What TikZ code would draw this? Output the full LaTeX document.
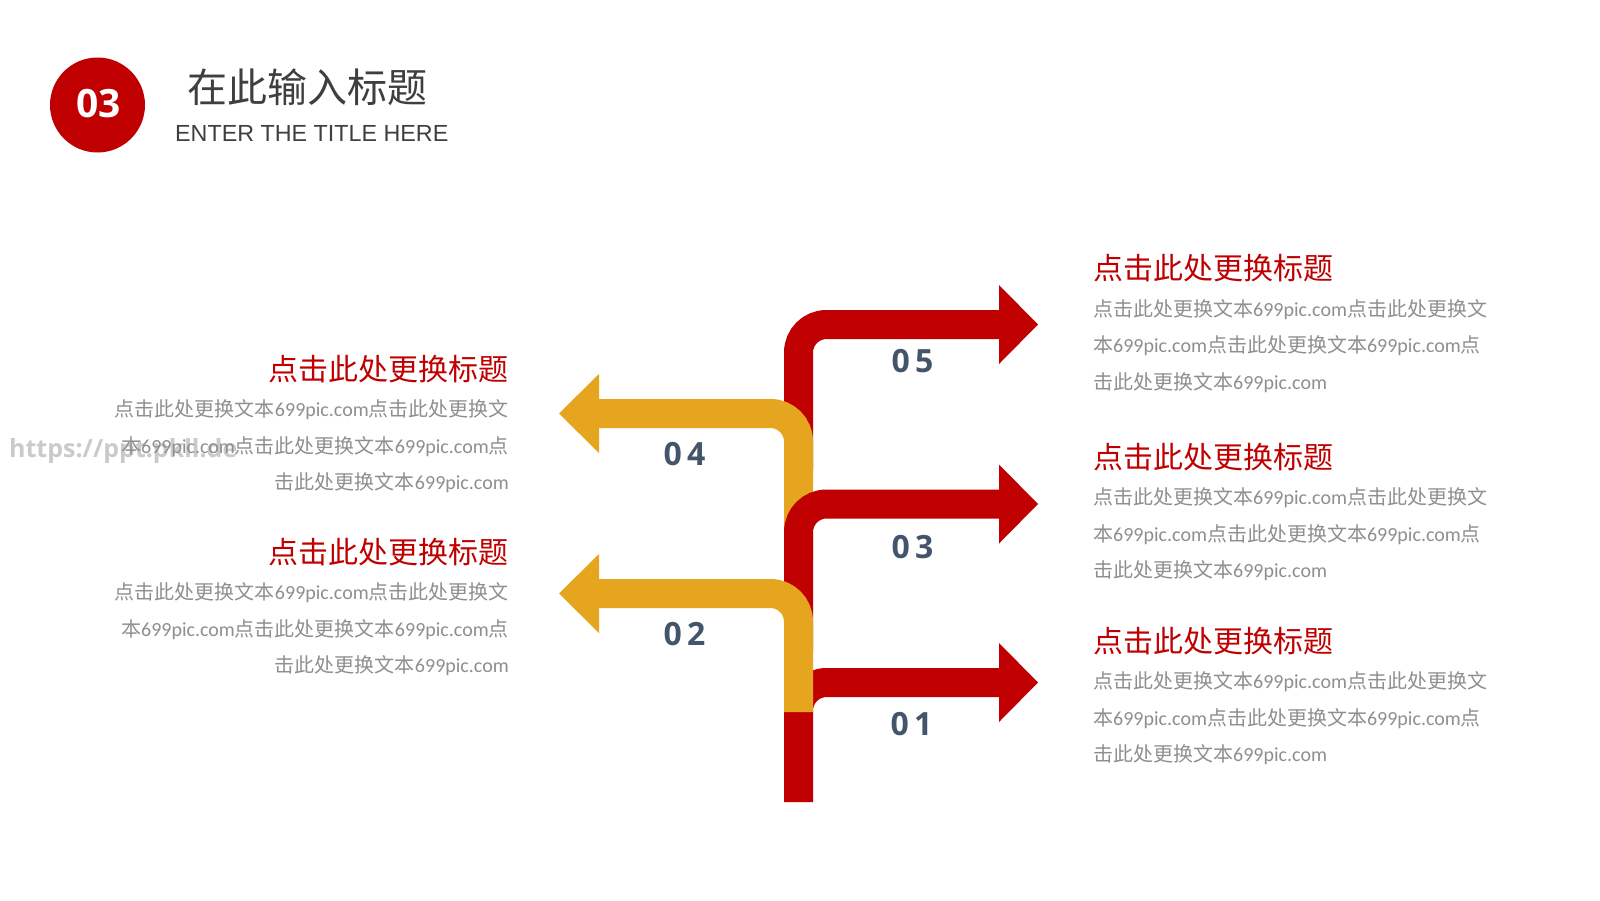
\documentclass[tikz,border=0pt]{standalone}
\usepackage{fontspec}
\newfontfamily\cjk{Noto Sans CJK SC}
\newfontfamily\osans{Open Sans}
\newfontfamily\lsans{Liberation Sans}
\newfontfamily\carl{Carlito}
\definecolor{mred}{HTML}{C00000}
\definecolor{myel}{HTML}{E5A51F}
\definecolor{lab}{HTML}{44546A}
\definecolor{bodyg}{HTML}{8F8F8F}
\definecolor{headg}{HTML}{3F3F3F}
\definecolor{wmark}{HTML}{CACACA}
\newcommand\pc{{\carl\fontsize{20}{20}\selectfont 699pic.com}}
\begin{document}
\begin{tikzpicture}[x=1pt,y=-1pt,
  band/.style={line width=29pt, rounded corners=28pt},
  num/.style={inner sep=0pt, text=lab, font=\osans\bfseries\fontsize{32}{32}\selectfont},
  ttl/.style={inner sep=0pt, text=mred, font=\cjk\fontsize{30}{30}\selectfont},
  bdy/.style={inner sep=0pt, text=bodyg, font=\cjk\fontsize{20}{20}\selectfont},
  ]
\useasboundingbox (0,0) rectangle (1600,900);
\fill[white] (0,0) rectangle (1600,900);

% header
\node[circle, fill=mred, minimum size=95pt, inner sep=0pt] (badge) at (97.5,105) {};
\node[inner sep=0pt, text=white, font=\osans\bfseries\fontsize{39}{39}\selectfont] (badgenum) at (98.5,104) {03};
\node[inner sep=0pt, anchor=base west, text=headg, font=\cjk\fontsize{40}{40}\selectfont] (htitle) at (187,102) {在此输入标题};
\node[inner sep=0pt, anchor=base west, text=headg, font=\lsans\fontsize{23.3}{23.3}\selectfont] (hsub) at (175,141.5) {ENTER THE TITLE HERE};

% watermark
\node[inner sep=0pt, anchor=base west, text=wmark, font=\osans\bfseries\fontsize{25}{25}\selectfont] (wm) at (9,457) {https://ppt.pkll.de};

% arrow coordinates
\coordinate (b1) at (798.5,802);   \coordinate (k1) at (798.5,682.5); \coordinate (e1) at (1000,682.5);
\coordinate (b5) at (798.5,470);   \coordinate (k5) at (798.5,324.5); \coordinate (e5) at (1000,324.5);
\coordinate (b4) at (798.5,560);   \coordinate (k4) at (798.5,413.5); \coordinate (e4) at (598,413.5);
\coordinate (b3) at (798.5,650);   \coordinate (k3) at (798.5,504);   \coordinate (e3) at (1000,504);
\coordinate (b2) at (798.5,712);   \coordinate (k2) at (798.5,593.5); \coordinate (e2) at (598,593.5);

% 01
\draw[band, mred] (b1) -- (k1) -- (e1);
\fill[mred] (999,643) -- (1038,682.5) -- (999,722) -- cycle;
% 05
\draw[band, mred] (b5) -- (k5) -- (e5);
\fill[mred] (999,285) -- (1038,324.5) -- (999,364) -- cycle;
% 04
\draw[band, myel] (b4) -- (k4) -- (e4);
\fill[myel] (599,374) -- (559,413.5) -- (599,453) -- cycle;
% 03
\draw[band, mred] (b3) -- (k3) -- (e3);
\fill[mred] (999,464.5) -- (1038,504) -- (999,543.5) -- cycle;
% 02
\draw[band, myel] (b2) -- (k2) -- (e2);
\fill[myel] (599,554) -- (559,593.5) -- (599,633) -- cycle;

% numbers
\node[num] (n5) at (912.5,361.5) {0\kern5pt5};
\node[num] (n4) at (684.5,454) {0\kern5pt4};
\node[num] (n3) at (912.5,547) {0\kern5pt3};
\node[num] (n2) at (684.5,634) {0\kern5pt2};
\node[num] (n1) at (911.5,724.5) {0\kern5pt1};

% right blocks
\node[ttl, anchor=base west] (r1t) at (1093,279.75) {点击此处更换标题};
\node[bdy, anchor=base west] (r1a) at (1093,316) {点击此处更换文本\pc 点击此处更换文};
\node[bdy, anchor=base west] (r1b) at (1093,352.5) {本\pc 点击此处更换文本\pc 点};
\node[bdy, anchor=base west] (r1c) at (1093,389) {击此处更换文本\pc};

\node[ttl, anchor=base west] (r2t) at (1093,468.25) {点击此处更换标题};
\node[bdy, anchor=base west] (r2a) at (1093,504.5) {点击此处更换文本\pc 点击此处更换文};
\node[bdy, anchor=base west] (r2b) at (1093,541) {本\pc 点击此处更换文本\pc 点};
\node[bdy, anchor=base west] (r2c) at (1093,577.5) {击此处更换文本\pc};

\node[ttl, anchor=base west] (r3t) at (1093,652.25) {点击此处更换标题};
\node[bdy, anchor=base west] (r3a) at (1093,688.5) {点击此处更换文本\pc 点击此处更换文};
\node[bdy, anchor=base west] (r3b) at (1093,725) {本\pc 点击此处更换文本\pc 点};
\node[bdy, anchor=base west] (r3c) at (1093,761.5) {击此处更换文本\pc};

% left blocks
\node[ttl, anchor=base east] (l1t) at (509,380.25) {点击此处更换标题};
\node[bdy, anchor=base east] (l1a) at (509,416.5) {点击此处更换文本\pc 点击此处更换文};
\node[bdy, anchor=base east] (l1b) at (509,453) {本\pc 点击此处更换文本\pc 点};
\node[bdy, anchor=base east] (l1c) at (509,489.5) {击此处更换文本\pc};

\node[ttl, anchor=base east] (l2t) at (509,563.25) {点击此处更换标题};
\node[bdy, anchor=base east] (l2a) at (509,599.5) {点击此处更换文本\pc 点击此处更换文};
\node[bdy, anchor=base east] (l2b) at (509,636) {本\pc 点击此处更换文本\pc 点};
\node[bdy, anchor=base east] (l2c) at (509,672.5) {击此处更换文本\pc};
\end{tikzpicture}
\end{document}
